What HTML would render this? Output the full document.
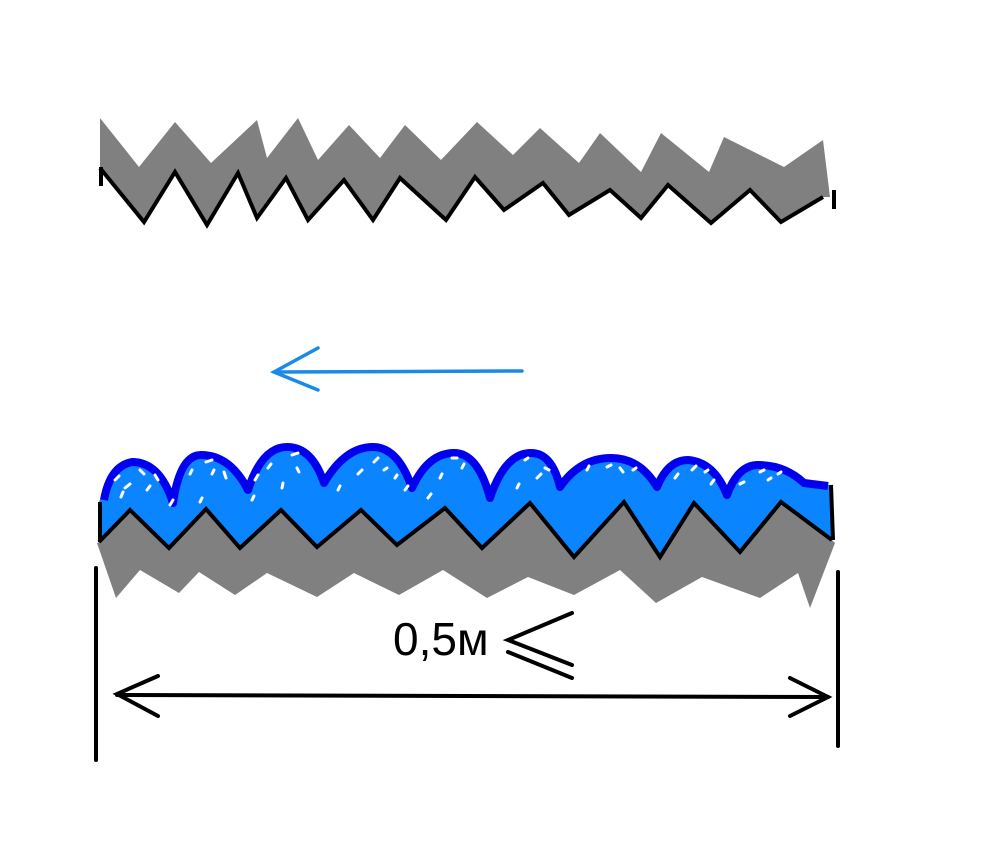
<!DOCTYPE html>
<html><head><meta charset="utf-8"><style>html,body{margin:0;padding:0;background:#fff;}svg{display:block}</style></head>
<body>
<svg width="982" height="859" viewBox="0 0 982 859" xmlns="http://www.w3.org/2000/svg">
<rect width="982" height="859" fill="#fff"/>
<!-- top gray -->
<polygon fill="#808080" points="100,118 139,167 175,122 211,163 257,120 267,158 298,118 318,160 349,125 380,158 405,125 441,160 477,122 513,155 540,128 579,163 600,133 641,172 661,133 709,172 724,137 784,167 823,140 830,197 823,197 781,222 750,190 711,223 668,185 641,218 610,190 569,215 543,183 504,210 475,177 446,220 400,178 373,220 344,180 308,220 286,178 257,218 238,173 207,225 175,172 144,222 100,168"/>
<polyline fill="none" stroke="#000" stroke-width="4" stroke-linejoin="miter" points="100,168 144,222 175,172 207,225 238,173 257,218 286,178 308,220 344,180 373,220 400,178 446,220 475,177 504,210 543,183 569,215 610,190 641,218 668,185 711,223 750,190 781,222 823,197"/>
<line x1="101" y1="167" x2="101" y2="186" stroke="#000" stroke-width="4"/>
<line x1="834" y1="190" x2="834" y2="209" stroke="#000" stroke-width="4"/>
<!-- blue arrow -->
<g stroke="#1a8ae8" stroke-width="3.5" fill="none" stroke-linecap="round">
<line x1="274" y1="372" x2="522" y2="371"/>
<polyline points="318,348 274,372 318,390"/>
</g>
<!-- bottom gray -->
<polygon fill="#808080" points="97,543 116,598 140,570 179,593 199,572 235,595 267,573 317,597 354,573 399,595 443,570 487,598 528,577 574,595 620,570 656,603 702,577 760,598 798,573 810,608 835,543 832,540 781,502 740,552 694,503 660,557 624,502 574,557 530,503 482,548 445,508 397,545 361,510 317,547 281,510 240,548 206,509 169,548 130,510 99,542"/>
<!-- water -->
<path fill="#0a84ff" d="M99,542 L99,502 L104,490 Q110,466 132,462 Q160,462 173,503 Q180,455 201,455 Q230,455 248,490 Q262,447 287,447 Q312,447 324,483 Q345,447 373,447 Q398,447 412,488 Q428,453 454,453 Q478,453 490,498 Q505,453 531,453 Q552,453 560,487 Q580,458 611,458 Q640,458 657,487 Q668,460 688,460 Q714,462 727,495 Q738,465 758,465 Q785,465 804,483 L830,485 L832,540 L781,502 L740,552 L694,503 L660,557 L624,502 L574,557 L530,503 L482,548 L445,508 L397,545 L361,510 L317,547 L281,510 L240,548 L206,509 L169,548 L130,510 Z"/>
<path fill="none" stroke="#0000ee" stroke-width="8" stroke-linejoin="round" d="M104,500 Q110,466 132,462 Q160,462 173,503 Q180,455 201,455 Q230,455 248,490 Q262,447 287,447 Q312,447 324,483 Q345,447 373,447 Q398,447 412,488 Q428,453 454,453 Q478,453 490,498 Q505,453 531,453 Q552,453 560,487 Q580,458 611,458 Q640,458 657,487 Q668,460 688,460 Q714,462 727,495 Q738,465 758,465 Q785,465 804,483 L828,486"/>
<g stroke="#fff" stroke-width="3" stroke-linecap="round">
<line x1="115" y1="480" x2="119" y2="476"/><line x1="125" y1="488" x2="130" y2="484"/><line x1="140" y1="470" x2="144" y2="474"/><line x1="121" y1="497" x2="123" y2="492"/><line x1="155" y1="475" x2="158" y2="480"/><line x1="147" y1="490" x2="150" y2="486"/>
<line x1="170" y1="505" x2="173" y2="500"/><line x1="206" y1="462" x2="212" y2="460"/><line x1="212" y1="474" x2="214" y2="470"/><line x1="224" y1="472" x2="226" y2="478"/><line x1="190" y1="474" x2="192" y2="470"/><line x1="200" y1="502" x2="202" y2="498"/>
<line x1="255" y1="480" x2="258" y2="475"/><line x1="268" y1="468" x2="271" y2="464"/><line x1="292" y1="455" x2="298" y2="453"/><line x1="297" y1="468" x2="299" y2="472"/><line x1="282" y1="488" x2="283" y2="483"/><line x1="252" y1="500" x2="254" y2="496"/>
<line x1="338" y1="490" x2="340" y2="486"/><line x1="358" y1="474" x2="362" y2="470"/><line x1="374" y1="462" x2="378" y2="458"/><line x1="384" y1="470" x2="387" y2="468"/><line x1="395" y1="478" x2="397" y2="475"/><line x1="405" y1="490" x2="408" y2="486"/>
<line x1="440" y1="478" x2="442" y2="474"/><line x1="452" y1="458" x2="457" y2="458"/><line x1="462" y1="468" x2="464" y2="464"/><line x1="428" y1="498" x2="431" y2="494"/>
<line x1="517" y1="488" x2="519" y2="484"/><line x1="525" y1="460" x2="528" y2="458"/><line x1="537" y1="478" x2="541" y2="474"/><line x1="545" y1="468" x2="549" y2="470"/>
<line x1="587" y1="470" x2="589" y2="466"/><line x1="607" y1="467" x2="611" y2="465"/><line x1="620" y1="468" x2="623" y2="472"/><line x1="633" y1="470" x2="636" y2="468"/>
<line x1="675" y1="478" x2="678" y2="474"/><line x1="692" y1="470" x2="696" y2="466"/><line x1="705" y1="472" x2="708" y2="470"/><line x1="711" y1="484" x2="714" y2="480"/>
<line x1="740" y1="484" x2="744" y2="482"/><line x1="760" y1="472" x2="764" y2="470"/><line x1="768" y1="480" x2="771" y2="478"/><line x1="778" y1="474" x2="781" y2="472"/>
</g>
<line x1="100" y1="502" x2="100" y2="542" stroke="#000" stroke-width="4"/>
<line x1="831" y1="485" x2="833" y2="540" stroke="#000" stroke-width="4"/>
<polyline fill="none" stroke="#000" stroke-width="4" points="99,542 130,510 169,548 206,509 240,548 281,510 317,547 361,510 397,545 445,508 482,548 530,503 574,557 624,502 660,557 694,503 740,552 781,502 832,540"/>
<!-- dimension -->
<g stroke="#000" stroke-width="4" fill="none" stroke-linecap="round">
<line x1="96" y1="568" x2="96" y2="760"/>
<line x1="838" y1="572" x2="838" y2="746"/>
<line x1="117" y1="695" x2="828" y2="697"/>
<polyline points="158,676 117,694 158,716"/>
<polyline points="790,678 828,697 790,716"/>
<polyline points="572,613 508,640 572,665"/>
<line x1="508" y1="652" x2="572" y2="678"/>
</g>
<text x="393" y="655" font-family="Liberation Sans, sans-serif" font-size="46" fill="#000">0,5м</text>
</svg>
</body></html>
